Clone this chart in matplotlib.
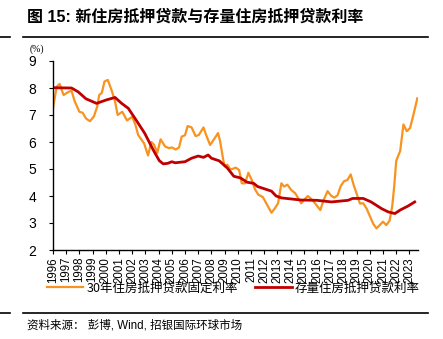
import matplotlib
matplotlib.use("Agg")
import matplotlib.pyplot as plt
from matplotlib.lines import Line2D

plt.rcParams['font.family'] = ['Liberation Sans', 'Noto Sans CJK SC', 'DejaVu Sans']

# 30年住房抵押贷款固定利率 (decimal year, %)
fixed_t = [1996.0, 1996.28, 1996.5, 1996.8, 1997.15, 1997.4, 1997.65, 1998.0, 1998.25, 1998.5,
           1998.8, 1999.1, 1999.35, 1999.5, 1999.7, 1999.9, 2000.15, 2000.45, 2000.7, 2000.9,
           2001.25, 2001.6, 2002.0, 2002.25, 2002.45, 2002.9, 2003.2, 2003.45, 2003.65, 2003.9,
           2004.15, 2004.5, 2004.8, 2005.0, 2005.3, 2005.55, 2005.75, 2006.0, 2006.2, 2006.5,
           2006.8, 2007.05, 2007.4, 2007.6, 2007.9, 2008.25, 2008.5, 2008.65, 2008.9, 2009.0,
           2009.2, 2009.45, 2009.85, 2010.1, 2010.3, 2010.55, 2010.8, 2011.05, 2011.3, 2011.55,
           2011.9, 2012.2, 2012.55, 2012.8, 2013.05, 2013.3, 2013.5, 2013.75, 2014.05, 2014.35,
           2014.6, 2014.8, 2015.1, 2015.3, 2015.55, 2015.85, 2016.25, 2016.5, 2016.8, 2017.05,
           2017.3, 2017.55, 2017.8, 2018.05, 2018.3, 2018.55, 2018.8, 2019.05, 2019.25, 2019.5,
           2019.75, 2020.0, 2020.25, 2020.5, 2020.75, 2021.0, 2021.25, 2021.5, 2021.7, 2021.85,
           2022.0, 2022.3, 2022.55, 2022.8, 2023.05, 2023.3, 2023.6]
fixed_v = [7.25, 8.05, 8.15, 7.74, 7.85, 7.9, 7.5, 7.12, 7.08, 6.87,
           6.77, 6.95, 7.31, 7.74, 7.82, 8.24, 8.3, 7.9, 7.5, 7.0,
           7.12, 6.8, 6.93, 6.63, 6.26, 5.95, 5.5, 6.0, 5.9, 5.6,
           6.1, 5.83, 5.77, 5.8, 5.72, 5.8, 6.2, 6.25, 6.59, 6.54,
           6.22, 6.26, 6.54, 6.26, 5.89, 6.14, 6.33, 6.05, 5.33, 5.1,
           5.16, 4.98, 5.05, 4.96, 4.47, 4.47, 4.86, 4.6, 4.25, 4.05,
           3.96, 3.69, 3.38, 3.54, 3.73, 4.47, 4.35, 4.42, 4.22, 4.1,
           3.9, 3.73, 3.9, 4.0, 3.9, 3.73, 3.48, 3.85, 4.18, 4.02,
           3.94, 4.02, 4.37, 4.55, 4.59, 4.8, 4.37, 4.02, 3.72, 3.73,
           3.54, 3.26, 2.98, 2.8, 2.92, 3.05, 2.92, 3.09, 3.63, 4.37,
           5.3, 5.67, 6.65, 6.4, 6.52, 7.0, 7.62]

# 存量住房抵押贷款利率
stock_t = [1996.0, 1997.4, 1997.9, 1998.5, 1999.3, 2000.05, 2000.7, 2001.2, 2001.7, 2002.3,
           2002.95, 2003.6, 2004.05, 2004.35, 2004.7, 2005.0, 2005.25, 2006.0, 2006.5, 2007.0,
           2007.4, 2007.75, 2008.0, 2008.6, 2009.2, 2009.7, 2010.2, 2010.7, 2011.2, 2011.5,
           2012.55, 2012.9, 2013.3, 2014.8, 2016.0, 2017.1, 2018.35, 2018.7, 2019.5, 2020.1,
           2020.9, 2021.4, 2021.9, 2022.3, 2022.9, 2023.4]
stock_v = [8.01, 8.0, 7.86, 7.6, 7.43, 7.56, 7.65, 7.43, 7.25, 6.81,
           6.32, 5.7, 5.31, 5.19, 5.21, 5.27, 5.23, 5.27, 5.4, 5.48,
           5.43, 5.52, 5.4, 5.3, 5.04, 4.73, 4.67, 4.51, 4.47, 4.35,
           4.18, 4.0, 3.93, 3.85, 3.84, 3.78, 3.84, 3.91, 3.91, 3.78,
           3.53, 3.41, 3.35, 3.48, 3.63, 3.78]

years = list(range(1996, 2024))

fig = plt.figure(figsize=(4.43, 3.39), dpi=100)
ax = fig.add_axes([53 / 443, 1 - 250 / 339, 365 / 443, 189 / 339])

ax.plot(fixed_t, fixed_v, color='#F7931E', lw=1.6, label='30年住房抵押贷款固定利率')
ax.plot(stock_t, stock_v, color='#C00000', lw=2.0, label='存量住房抵押贷款利率')

ax.set_xlim(1996, 2023.65)
ax.set_ylim(2, 9)
ax.set_yticks(range(2, 10))
ax.set_xticks(years)
ax.set_xticklabels([str(y) for y in years], rotation=90, fontsize=8.3)
ax.tick_params(axis='y', labelsize=10, length=3, width=0.8, pad=9)
ax.tick_params(axis='x', length=3, width=0.8, pad=2)
for s in ['top', 'right']:
    ax.spines[s].set_visible(False)
for s in ['left', 'bottom']:
    ax.spines[s].set_linewidth(1.0)

fig.text(30 / 443, 1 - 49 / 339, '(%)', fontsize=7, family=['Liberation Serif'], ha='left', va='center')

fig.legend(loc='center', bbox_to_anchor=(0.527, 1 - 288 / 339), ncol=2, frameon=False,
           handlelength=2.9, columnspacing=1.4, handletextpad=0.25,
           prop={'family': ['Noto Sans CJK SC'], 'size': 9})

fig.text(27 / 443, 1 - 17 / 339, '图 15: 新住房抵押贷款与存量住房抵押贷款利率', fontsize=11.5,
         fontweight='bold', family=['Liberation Sans', 'Noto Sans CJK SC'], ha='left', va='center')
fig.text(27 / 443, 1 - 326 / 339, '资料来源： 彭博, Wind, 招银国际环球市场', fontsize=8.3,
         family=['Liberation Sans', 'Noto Sans CJK SC'], ha='left', va='center')

for yy in [37, 313]:
    fig.add_artist(Line2D([0, 10 / 443], [1 - yy / 339] * 2, transform=fig.transFigure, color='black', lw=1.2))
    fig.add_artist(Line2D([23 / 443, 428 / 443], [1 - yy / 339] * 2, transform=fig.transFigure, color='black', lw=1.2))

fig.savefig('out.png', dpi=100)
